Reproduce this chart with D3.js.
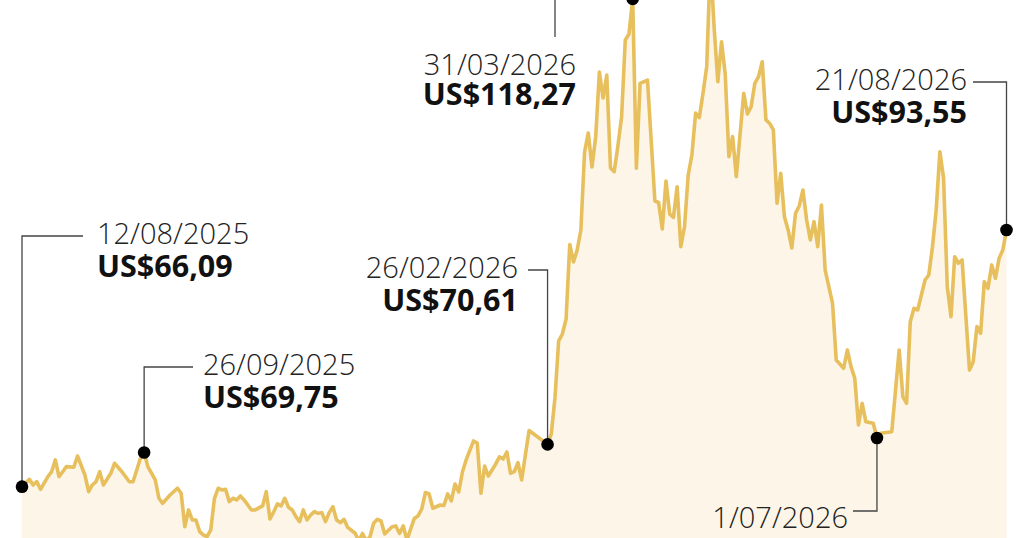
<!DOCTYPE html>
<html>
<head>
<meta charset="utf-8">
<script src="https://cdn.jsdelivr.net/npm/d3@7"></script>
<style>
  html, body { margin: 0; padding: 0; background: #ffffff; overflow: hidden; }
  svg { display: block; }
  .date { font-family: "Open Sans", sans-serif; font-weight: 300; font-size: 29px; fill: #222; }
  .val { font-family: "Open Sans", sans-serif; font-weight: 700; font-size: 30.5px; fill: #111; }
</style>
</head>
<body>
<svg id="chart" width="1024" height="538"></svg>
<script>
// ---- Data: trading-day index and price (US$) ----
const dayIndex = [0,2,3,4,5,7,8,9,10,11,12,14,15,17,18,19,20,21,22,24,25,27,29,30,32,33,34,36,37,38,40,42,43,44,45,46,47,48,49,50,51,52,53,54,55,56,57,58,59,60,62,63,65,66,67,68,69,70,71,72,73,74,75,76,77,78,79,80,81,82,83,84,85,86,87,88,90,91,92,93,94,95,96,97,98,100,101,102,103,104,106,107,108,109,110,111,113,114,115,116,117,118,119,120,122,123,124,125,126,128,129,130,131,132,133,134,135,137,138,142,143,144,145,146,147,148,149,150,151,152,153,154,155,156,157,158,159,160,161,162,163,164,165,166,167,169,171,172,173,174,175,176,177,178,179,180,181,182,183,184,185,186,187,188,189,190,191,192,193,195,196,197,198,199,200,201,202,203,204,205,206,207,208,209,210,211,212,213,214,215,216,217,219,220,222,223,224,225,226,227,228,230,231,232,235,237,238,239,240,241,242,244,245,246,247,248,249,250,251,252,253,254,256,257,258,259,260,261,262,263,264,265,266];
const price = [66.09,66.88,66.27,66.62,65.81,67.16,67.69,68.95,67.16,67.69,68.23,68.17,69.37,67.34,65.56,66.27,66.62,67.69,66.27,67.52,68.59,67.69,66.62,66.62,69.13,69.75,68.23,66.81,64.85,64.31,65.20,65.92,65.38,61.81,63.60,62.53,62.53,61.28,60.92,60.74,61.46,64.85,65.92,65.74,65.81,64.49,64.85,64.67,65.10,64.67,63.60,63.60,64.03,65.56,62.63,63.38,64.24,64.03,64.85,63.89,63.60,62.88,62.35,63.60,62.53,63.06,63.42,63.24,63.31,62.35,63.31,63.95,62.53,62.24,62.60,61.73,61.11,60.30,61.08,60.30,60.70,62.17,62.60,62.42,61.03,61.81,61.89,61.08,61.89,60.39,62.69,62.96,63.70,65.47,65.31,63.78,64.13,64.08,65.31,64.56,66.38,65.52,67.66,68.95,70.98,70.76,65.38,68.30,67.23,68.52,69.27,69.05,69.80,67.52,67.69,68.66,66.81,72.10,71.80,70.61,71.73,75.58,81.68,82.42,84.00,92.00,90.13,91.41,93.55,101.89,103.93,100.29,103.50,110.45,107.67,110.13,100.18,99.79,102.53,105.64,113.87,114.52,118.27,100.15,109.24,109.59,96.65,96.49,93.66,98.79,95.26,94.89,98.18,91.76,93.90,99.43,101.57,106.06,105.58,108.17,111.02,122.43,115.26,109.41,113.69,110.24,101.39,103.53,99.25,108.17,105.96,106.74,109.24,109.95,111.55,105.32,104.96,104.25,96.41,99.61,94.97,93.55,91.62,95.34,96.12,97.83,94.62,92.48,94.44,91.76,96.22,89.27,85.71,79.64,78.76,80.71,78.93,77.69,72.69,75.01,73.04,72.87,71.30,71.80,71.97,80.71,75.72,75.01,83.74,85.17,84.99,88.20,88.74,91.76,95.69,101.92,99.08,87.48,84.27,90.69,89.99,90.34,78.57,79.46,83.21,82.50,88.02,87.31,89.81,88.38,90.52,91.41,93.55];

// ---- Annotations ----
const annDay   = [0, 33, 142, 165, 231, 266];
const annDate  = ["12/08/2025", "26/09/2025", "26/02/2026", "31/03/2026", "1/07/2026", "21/08/2026"];
const annValue = ["US$66,09", "US$69,75", "US$70,61", "US$118,27", "", "US$93,55"];

// ---- Layout (label placement) ----
const annLayout = [
  { kind: "up",    elbowY: 236, textX: 97,  anchor: "start", lineEnd: 83 },
  { kind: "up",    elbowY: 367, textX: 203, anchor: "start", lineEnd: 193 },
  { kind: "up",    elbowY: 270, textX: 518, anchor: "end",   lineEnd: 528 },
  { kind: "side",  elbowX: 555, lineEndY: 37, textX: 576, anchor: "end", dateY: 75 },
  { kind: "down",  elbowY: 511, textX: 848, anchor: "end",   lineEnd: 853 },
  { kind: "up",    elbowY: 82,  textX: 967, anchor: "end",   lineEnd: 973 }
];

const svg = d3.select("#chart");

const x = d3.scaleLinear().domain([0, 266]).range([22, 1006.5]);
const y = d3.scaleLinear().domain([60, 118.27]).range([543.6, -1.1]);

const data = dayIndex.map((d, i) => ({ d, v: price[i] }));

const area = d3.area().x(p => x(p.d)).y0(y(60)).y1(p => y(p.v));
const line = d3.line().x(p => x(p.d)).y(p => y(p.v));

svg.append("path").datum(data).attr("d", area).attr("fill", "#fdf6e8");
svg.append("path").datum(data).attr("d", line)
  .attr("fill", "none").attr("stroke", "#e7bf5c").attr("stroke-width", 3.6)
  .attr("stroke-linejoin", "round");

const lookup = new Map(dayIndex.map((d, i) => [d, price[i]]));
const g = svg.append("g");

annDay.forEach((d, i) => {
  const L = annLayout[i];
  const px = x(d), py = y(lookup.get(d));
  let path, dateY, valY;
  if (L.kind === "up") {
    path = `M${px},${py}V${L.elbowY}H${L.lineEnd}`;
    dateY = L.elbowY + 8; valY = dateY + 33;
  } else if (L.kind === "down") {
    path = `M${px},${py}V${L.elbowY}H${L.lineEnd}`;
    dateY = L.elbowY + 17; valY = dateY + 33;
  } else {
    path = `M${px},${py}H${L.elbowX}V${L.lineEndY}`;
    dateY = L.dateY; valY = dateY + 30;
  }
  g.append("path").attr("d", path).attr("fill", "none")
    .attr("stroke", "#444").attr("stroke-width", 1.3);
  g.append("circle").attr("cx", px).attr("cy", py).attr("r", 6.3).attr("fill", "#000");
  g.append("text").attr("class", "date").attr("x", L.textX).attr("y", dateY)
    .attr("text-anchor", L.anchor).text(annDate[i]);
  if (annValue[i]) {
    g.append("text").attr("class", "val").attr("x", L.textX).attr("y", valY)
      .attr("text-anchor", L.anchor).text(annValue[i]);
  }
});
</script>
</body>
</html>
